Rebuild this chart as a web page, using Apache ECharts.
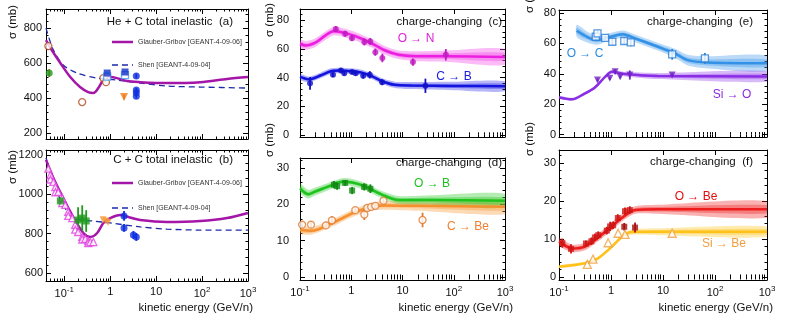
<!DOCTYPE html>
<html>
<head>
<meta charset="utf-8">
<script src="https://cdn.jsdelivr.net/npm/echarts@6/dist/echarts.min.js"></script>
<style>
  html, body { margin: 0; padding: 0; background: #fff; }
  #chart { width: 789px; height: 320px; }
</style>
</head>
<body>
<div id="chart"></div>
<script>
// tick values
const xTicks = [0.1, 1, 10, 100, 1000];
const aYTicks = [200, 400, 600, 800];
const bYTicks = [600, 800, 1000, 1200];
const cYTicks = [0, 20, 40, 60, 80];
const dYTicks = [0, 10, 20, 30];
const eYTicks = [0, 20, 40, 60, 80];
const fYTicks = [0, 10, 20, 30];

// (a) He + C total inelastic
const aGGe = [0.04, 0.05, 0.082, 0.135, 0.22, 0.33, 0.43, 0.55, 0.71, 1, 1.4, 2.3, 4.5, 17, 92, 350, 1000];
const aGGs = [731, 686, 600, 520, 463, 434, 429, 457, 503, 520, 514, 497, 491, 486, 491, 509, 520];
const aShenE = [0.04, 0.058, 0.095, 0.19, 0.52, 1.4, 4.5, 17, 92, 1000];
const aShenS = [800, 674, 589, 543, 514, 503, 486, 469, 463, 457];
const aOpenCircE = [0.045, 0.245, 0.71, 0.81];
const aOpenCircS = [697, 377, 514, 491];
const aGreenE = [0.047];
const aGreenS = [543];
const aGreenErr = [22];
const aSqE = [0.86, 2.1];
const aSqS = [543, 549];
const aOpenSqE = [0.86, 2.1];
const aOpenSqS = [522, 531];
const aTriE = [2.0];
const aTriS = [406];
const aTriErr = [14];
const aCircE = [3.7, 3.7, 3.7, 3.7];
const aCircS = [526, 446, 430, 410];
const aCircErr = [14, 12, 12, 12];

// (b) C + C total inelastic
const bGGe = [0.04, 0.058, 0.095, 0.157, 0.26, 0.37, 0.52, 0.71, 1, 1.66, 2.5, 4.5, 17, 92, 350, 1000];
const bGGs = [1175, 1083, 981, 884, 803, 783, 803, 854, 879, 895, 884, 869, 859, 864, 879, 905];
const bShenE = [0.04, 0.058, 0.09, 0.157, 0.43, 1, 4.5, 17, 92, 1000];
const bShenS = [1185, 1063, 956, 879, 864, 854, 834, 823, 818, 818];
const bTriE = [0.045, 0.05, 0.05, 0.058, 0.064, 0.064, 0.074, 0.09, 0.09, 0.105, 0.122, 0.122, 0.149, 0.173, 0.173, 0.2, 0.246, 0.246, 0.286, 0.333, 0.333, 0.37, 0.43];
const bTriS = [1130, 1098, 1075, 1063, 1037, 1010, 1012, 981, 955, 946, 910, 890, 879, 844, 820, 808, 783, 770, 773, 762, 752, 757, 757];
const bGreenE = [0.082, 0.2, 0.246, 0.3];
const bGreenS = [966, 869, 879, 864];
const bGreenErr = [15, 65, 65, 55];
const bOrangeE = [0.7, 0.8, 0.9];
const bOrangeS = [870, 864, 858];
const bCircE = [2.0, 2.0, 3.2, 3.7];
const bCircS = [890, 829, 793, 783];
const bCircErr = [25, 20, 20, 20];

// (c) O -> N, C -> B
const cONe = [0.1, 0.13, 0.2, 0.3, 0.45, 0.7, 1.2, 2.5, 4.6, 8.4, 18, 80, 1000];
const cONs = [63.5, 62.5, 64.5, 69, 72.5, 71.5, 69, 64, 59, 56, 55, 55, 54.5];
const cONh = [3, 3, 3, 3, 3, 3, 3, 3, 3, 3, 3.5, 4, 5.5];
const cONptE = [0.5, 0.76, 1.03, 1.8, 2.35, 2.95, 4.05, 16, 70];
const cONptS = [74, 70.7, 67.6, 65, 65.3, 57.8, 53.8, 50.9, 56];
const cONptErr = [2, 2, 2, 2.5, 2.5, 2.5, 3, 2.5, 4];
const cCBe = [0.1, 0.15, 0.25, 0.4, 0.6, 1, 1.6, 2.5, 4, 7, 15, 100, 1000];
const cCBs = [40.5, 38.8, 41.5, 44.5, 45, 44.5, 43.5, 41, 37.5, 35, 34.5, 34.2, 34];
const cCBh = [2, 2, 2, 2, 2, 2, 2, 2, 2, 2.2, 2.5, 3, 3.5];
const cCBptE = [0.157, 0.44, 0.63, 0.73, 1.04, 1.22, 1.71, 2.3, 4.0, 28];
const cCBptS = [36, 42, 45, 43, 44, 43, 41.4, 42, 36.8, 34.3];
const cCBptErr = [4.5, 1.5, 1.5, 1.5, 1.5, 1.5, 2, 2.5, 2, 5];

// (d) O -> B, C -> Be
const dOBe = [0.1, 0.144, 0.197, 0.42, 0.66, 1.05, 1.88, 4.05, 8.3, 39, 1000];
const dOBs = [24.4, 22.8, 23.5, 25.3, 26.2, 26, 24.9, 22.6, 21.2, 21.2, 21];
const dOBh = [1.3, 1.2, 1.1, 1, 1, 1, 1, 1, 1.1, 1.3, 1.9];
const dOBptE = [0.46, 0.53, 0.76, 1.04, 1.79, 2.36];
const dOBptS = [25.4, 25, 25.9, 23.8, 24.8, 24.3];
const dOBptErr = [1, 1, 0.8, 1, 1, 1.2];
const dCBeE = [0.1, 0.17, 0.42, 1.05, 2.6, 4.6, 20, 1000];
const dCBeS = [12.9, 12.7, 14.8, 17.5, 19.4, 19.7, 19.6, 19.3];
const dCBeH = [1, 1, 1, 1, 1.1, 1.2, 1.4, 2];
const dCBeptE = [0.11, 0.164, 0.32, 0.42, 1.2, 1.8, 2.05, 2.45, 2.95, 4.25, 24.6];
const dCBeptS = [14.4, 14.4, 14.2, 15.6, 18.4, 17.2, 19, 19.3, 19.6, 21, 15.7];
const dCBeptErr = [1, 1, 1, 1.2, 0.8, 1.5, 0.8, 0.8, 0.8, 0.8, 2];

// (e) O -> C, Si -> O
const eOCe = [0.22, 0.36, 0.54, 0.87, 1.7, 2.9, 8, 16.9, 30, 73, 1000];
const eOCs = [68.3, 64, 62.2, 64, 66, 63.3, 57.8, 53.5, 49, 47.5, 46.9];
const eOCh = [4, 3.5, 3, 2.5, 2.5, 2.5, 2.5, 3, 3.5, 4, 5];
const eOCptE = [0.51, 0.55, 0.77, 1.06, 1.8, 2.4, 15, 64];
const eOCptS = [64.4, 66.6, 63.7, 61.1, 61.6, 60.7, 52.8, 50.2];
const eOCptErr = [2, 2, 1.5, 2, 2, 2.5, 3.5, 3.5];
const eSiOe = [0.1, 0.178, 0.316, 0.49, 0.77, 1.04, 1.86, 8, 1000];
const eSiOs = [24.5, 23.2, 27.1, 31, 38, 41.3, 39.8, 38.5, 38.3];
const eSiOh = [1, 1, 1, 1, 1, 1.2, 1.5, 2, 3.5];
const eSiOptE = [0.55, 0.95, 1.2, 1.5, 2.3, 15];
const eSiOptS = [35.9, 37, 41.4, 38, 39.2, 39.2];
const eSiOptErr = [1, 1, 1.5, 1, 3, 1];

// (f) O -> Be, Si -> Be
const fOBeE = [0.1, 0.178, 0.316, 0.54, 0.87, 1.63, 2.9, 8, 1000];
const fOBeS = [9.3, 7.5, 8, 10.2, 12.4, 15.6, 17.6, 17.8, 17.8];
const fOBeH = [1, 1, 1, 1, 1, 1, 1, 1.2, 2.2];
const fOBeptE = [0.116, 0.17, 0.33, 0.42, 0.49, 0.57, 0.83, 0.96, 1.1, 1.35, 1.86, 2.3];
const fOBeptS = [8.9, 7.4, 8.8, 9.4, 10.4, 11, 12.2, 13.3, 13.6, 15.5, 17.3, 17.6];
const fOBeptErr = [1.2, 1.2, 0.8, 1, 1, 1, 1, 1.2, 1, 1, 1, 1];
const fOBe2E = [1.8, 2.9];
const fOBe2S = [13.2, 13];
const fOBe2Err = [1, 1.3];
const fSiBeE = [0.1, 0.316, 0.56, 1.04, 1.63, 2.5, 8, 1000];
const fSiBeS = [2.7, 3.6, 4.9, 8, 10.6, 11.8, 11.9, 11.9];
const fSiBeH = [0.4, 0.4, 0.4, 0.5, 0.6, 0.7, 0.9, 1.4];
const fSiBeptE = [0.35, 0.45, 0.88, 1.37, 1.86, 15];
const fSiBeptS = [3.3, 4.7, 9.0, 11.5, 11.2, 11.5];

const GG_NAME = 'Glauber-Gribov [GEANT-4-09-06]';
const SHEN_NAME = 'Shen [GEANT-4-09-04]';
const GG_COLOR = '#a416a8';
const SHEN_COLOR = '#1c2aa8';
const FONT = '"Liberation Sans", Arial, Helvetica, sans-serif';

const chart = echarts.init(document.getElementById('chart'));

// panel layout
const panels = [
  { left: 46, top: 9, width: 202, height: 130, xMin: 0.04, xMax: 1000, yMin: 166, yMax: 909, yTicks: aYTicks, xLabels: false, yMargin: 4 },
  { left: 46, top: 150, width: 202, height: 131, xMin: 0.04, xMax: 1000, yMin: 559, yMax: 1225, yTicks: bYTicks, xLabels: true, yMargin: 3 },
  { left: 300, top: 9, width: 205, height: 128, xMin: 0.1, xMax: 1000, yMin: -1.5, yMax: 88, yTicks: cYTicks, xLabels: false, yMargin: 11 },
  { left: 300, top: 158, width: 205, height: 122, xMin: 0.1, xMax: 1000, yMin: -0.83, yMax: 32.75, yTicks: dYTicks, xLabels: true, yMargin: 11 },
  { left: 559, top: 10, width: 208, height: 127, xMin: 0.1, xMax: 1000, yMin: -1.6, yMax: 82, yTicks: eYTicks, xLabels: false, yMargin: 3 },
  { left: 559, top: 150, width: 208, height: 130, xMin: 0.1, xMax: 1000, yMin: -0.8, yMax: 33.4, yTicks: fYTicks, xLabels: true, yMargin: 3 }
];

const xMinor = [];
for (let k = -2; k <= 2; k++) {
  for (let m = 2; m <= 9; m++) xMinor.push(+(m * Math.pow(10, k)).toFixed(6));
}
function yMinorOf(ticks, lo, hi) {
  const step = ticks[1] - ticks[0], m = step / 5, out = [];
  for (let v = Math.ceil(lo / m) * m; v <= hi + 1e-9; v += m) {
    if (Math.abs(v / step - Math.round(v / step)) > 1e-6) out.push(+v.toFixed(6));
  }
  return out;
}

function logLabel(v) {
  const k = Math.round(Math.log10(v));
  if (k === 0) return '1';
  if (k === 1) return '10';
  return '{b|10}{s|' + k + '}';
}

const black = { color: '#000', width: 1 };
const tick = (vals, len) => ({ show: true, inside: true, length: len, interval: 0, customValues: vals, lineStyle: black });

const grid = [], xAxis = [], yAxis = [];
panels.forEach((p, i) => {
  grid.push({ left: p.left, top: p.top, width: p.width, height: p.height, containLabel: false });
  const xb = { type: 'log', gridIndex: i, min: p.xMin, max: p.xMax, splitLine: { show: false }, axisLabel: { show: false }, axisLine: { show: false } };
  xAxis.push(
    Object.assign({}, xb, {
      position: 'bottom', axisLine: { show: true, onZero: false, lineStyle: black }, axisTick: tick(xTicks, 5),
      axisLabel: {
        show: p.xLabels, customValues: xTicks, interval: 0, margin: 5, color: '#111', fontFamily: FONT, fontSize: 11,
        formatter: logLabel,
        rich: { b: { fontFamily: FONT, fontSize: 11, color: '#111' }, s: { fontFamily: FONT, fontSize: 8, color: '#111', padding: [0, 0, 7, 0] } }
      }
    }),
    Object.assign({}, xb, { position: 'bottom', axisTick: tick(xMinor, 2.5) }),
    Object.assign({}, xb, { position: 'top', axisLine: { show: true, onZero: false, lineStyle: black }, axisTick: tick(xTicks, 5) }),
    Object.assign({}, xb, { position: 'top', axisTick: tick(xMinor, 2.5) })
  );
  const yMinor = yMinorOf(p.yTicks, p.yMin, p.yMax);
  const yb = { type: 'value', gridIndex: i, min: p.yMin, max: p.yMax, splitLine: { show: false }, axisLabel: { show: false }, axisLine: { show: false } };
  yAxis.push(
    Object.assign({}, yb, {
      position: 'left', axisLine: { show: true, onZero: false, lineStyle: black }, axisTick: tick(p.yTicks, 5),
      axisLabel: {
        show: true, customValues: p.yTicks, interval: 0, margin: p.yMargin, color: '#111', fontFamily: FONT, fontSize: 11,
        formatter: (v) => String(Math.round(v))
      }
    }),
    Object.assign({}, yb, { position: 'left', axisTick: tick(yMinor, 2.5) }),
    Object.assign({}, yb, { position: 'right', axisLine: { show: true, onZero: false, lineStyle: black }, axisTick: tick(p.yTicks, 5) }),
    Object.assign({}, yb, { position: 'right', axisTick: tick(yMinor, 2.5) })
  );
});

const zip = (xs, ys) => xs.map((x, k) => [x, ys[k]]);
const zip3 = (xs, ys, es) => xs.map((x, k) => [x, ys[k], es[k]]);
const ax = (i) => ({ xAxisIndex: 4 * i, yAxisIndex: 4 * i });

function band(i, xs, ys, hs, color) {
  return Object.assign({
    type: 'custom', clip: true, silent: true, z: 1,
    data: zip3(xs, ys, hs),
    renderItem: (params, api) => {
      if (params.dataIndexInside !== 0) return null;
      const n = params.dataInsideLength;
      const poly = (f) => {
        const up = [], lo = [];
        for (let k = 0; k < n; k++) {
          const x = api.value(0, k), y = api.value(1, k), h = api.value(2, k) * f;
          up.push(api.coord([x, y + h]));
          lo.push(api.coord([x, y - h]));
        }
        return up.concat(lo.reverse());
      };
      return {
        type: 'group', children: [
          { type: 'polygon', shape: { points: poly(1), smooth: 0.25 }, style: { fill: color, opacity: 0.35 } },
          { type: 'polygon', shape: { points: poly(0.5), smooth: 0.25 }, style: { fill: color, opacity: 0.35 } }
        ]
      };
    }
  }, ax(i));
}

function curve(i, xs, ys, color, width, name, dashed) {
  return Object.assign({
    type: 'line', name: name, data: zip(xs, ys), symbol: 'none', smooth: 0.3, z: 3, silent: true,
    lineStyle: { color: color, width: width, type: dashed ? [6, 4] : 'solid' },
    itemStyle: { color: color }
  }, ax(i));
}

function errBars(i, xs, ys, es, color) {
  return Object.assign({
    type: 'custom', clip: true, silent: true, z: 4,
    data: zip3(xs, ys, es),
    renderItem: (params, api) => {
      const x = api.value(0), y = api.value(1), e = api.value(2);
      const p1 = api.coord([x, y - e]), p2 = api.coord([x, y + e]);
      return { type: 'line', shape: { x1: p1[0], y1: p1[1], x2: p2[0], y2: p2[1] }, style: { stroke: color, lineWidth: 1.8 } };
    }
  }, ax(i));
}

function marks(i, xs, ys, color, symbol, size, open, rotate) {
  return Object.assign({
    type: 'scatter', data: zip(xs, ys), symbol: symbol, symbolSize: size, symbolRotate: rotate || 0, z: 5, silent: true,
    itemStyle: open ? { color: '#fff', borderColor: color, borderWidth: 1.3 } : { color: color, borderColor: color, borderWidth: 0 }
  }, ax(i));
}

const series = [
  // (a)
  curve(0, aShenE, aShenS, SHEN_COLOR, 1.3, SHEN_NAME, true),
  curve(0, aGGe, aGGs, GG_COLOR, 2.5, GG_NAME, false),
  marks(0, aOpenCircE, aOpenCircS, '#b24a1c', 'circle', 7, true),
  errBars(0, aGreenE, aGreenS, aGreenErr, '#b24a1c'),
  marks(0, aGreenE, aGreenS, '#1d9a1d', 'circle', 7, false),
  marks(0, aOpenSqE, aOpenSqS, '#3aa0f0', 'rect', 7, true),
  marks(0, aSqE, aSqS, '#1030c8', 'rect', 7, false),
  errBars(0, aTriE, aTriS, aTriErr, '#f07d1a'),
  marks(0, aTriE, aTriS, '#f07d1a', 'triangle', 8, false, 180),
  errBars(0, aCircE, aCircS, aCircErr, '#1030e0'),
  marks(0, aCircE, aCircS, '#1030e0', 'circle', 7, false),
  // (b)
  curve(1, bShenE, bShenS, SHEN_COLOR, 1.3, SHEN_NAME, true),
  curve(1, bGGe, bGGs, GG_COLOR, 2.5, GG_NAME, false),
  marks(1, bTriE, bTriS, '#e040e0', 'triangle', 7, true),
  errBars(1, bGreenE, bGreenS, bGreenErr, '#1d9a1d'),
  marks(1, bGreenE, bGreenS, '#1d9a1d', 'rect', 7, false),
  marks(1, bOrangeE, bOrangeS, '#f59a3a', 'triangle', 7, false, 180),
  errBars(1, bCircE, bCircS, bCircErr, '#1030e0'),
  marks(1, bCircE, bCircS, '#1030e0', 'circle', 7, false),
  // (c)
  band(2, cONe, cONs, cONh, '#f03ce6'),
  band(2, cCBe, cCBs, cCBh, '#2a2ae8'),
  curve(2, cONe, cONs, '#ec1ee0', 2.5),
  curve(2, cCBe, cCBs, '#1414e0', 2.5),
  errBars(2, cONptE, cONptS, cONptErr, '#c01cc0'),
  marks(2, cONptE, cONptS, '#c01cc0', 'circle', 6, false),
  errBars(2, cCBptE, cCBptS, cCBptErr, '#1010c8'),
  marks(2, cCBptE, cCBptS, '#1010c8', 'circle', 6, false),
  // (d)
  band(3, dCBeE, dCBeS, dCBeH, '#f5962e'),
  band(3, dOBe, dOBs, dOBh, '#28c828'),
  curve(3, dCBeE, dCBeS, '#f59030', 2.5),
  curve(3, dOBe, dOBs, '#1ec41e', 2.5),
  errBars(3, dOBptE, dOBptS, dOBptErr, '#138a13'),
  marks(3, dOBptE, dOBptS, '#138a13', 'rect', 6, false),
  errBars(3, dCBeptE, dCBeptS, dCBeptErr, '#e07a30'),
  marks(3, dCBeptE, dCBeptS, '#e07a30', 'circle', 7, true),
  // (e)
  band(4, eOCe, eOCs, eOCh, '#3a96ea'),
  band(4, eSiOe, eSiOs, eSiOh, '#9238ea'),
  curve(4, eOCe, eOCs, '#3391e6', 2.5),
  curve(4, eSiOe, eSiOs, '#8a2ee6', 2.5),
  errBars(4, eOCptE, eOCptS, eOCptErr, '#2a80d8'),
  marks(4, eOCptE, eOCptS, '#2a80d8', 'rect', 7, true),
  errBars(4, eSiOptE, eSiOptS, eSiOptErr, '#7222c4'),
  marks(4, eSiOptE, eSiOptS, '#7222c4', 'triangle', 7, false, 180),
  // (f)
  band(5, fOBeE, fOBeS, fOBeH, '#ee2020'),
  band(5, fSiBeE, fSiBeS, fSiBeH, '#ffc21a'),
  curve(5, fOBeE, fOBeS, '#ee1c1c', 2.5),
  curve(5, fSiBeE, fSiBeS, '#ffc21a', 2.5),
  errBars(5, fOBeptE, fOBeptS, fOBeptErr, '#d01414'),
  marks(5, fOBeptE, fOBeptS, '#d01414', 'rect', 6, false),
  errBars(5, fOBe2E, fOBe2S, fOBe2Err, '#a81010'),
  marks(5, fOBe2E, fOBe2S, '#a81010', 'rect', 6, false),
  marks(5, fSiBeptE, fSiBeptS, '#f0a040', 'triangle', 8, true)
];

function txt(x, y, s, opts) {
  return {
    type: 'text', x: x, y: y, rotation: (opts && opts.rot) || 0, silent: true,
    style: Object.assign({ text: s, fontFamily: FONT, fontSize: 11.5, fill: '#111', align: 'right', verticalAlign: 'middle' }, (opts && opts.style) || {})
  };
}
const sigma = (x, y) => txt(x, y, 'σ (mb)', { rot: Math.PI / 2, style: { align: 'center' } });
const lab = (x, y, s, c) => txt(x, y, s, { style: { align: 'center', fontSize: 12, fill: c } });

// legend keys for panels (a) and (b)
function legendKey(y1, y2) {
  return [
    { type: 'line', silent: true, shape: { x1: 112, y1: y1, x2: 133, y2: y1 }, style: { stroke: GG_COLOR, lineWidth: 2.5 } },
    { type: 'line', silent: true, shape: { x1: 112, y1: y2, x2: 133, y2: y2 }, style: { stroke: SHEN_COLOR, lineWidth: 1.3, lineDash: [6, 4] } },
    txt(138, y1, GG_NAME, { style: { align: 'left', fontSize: 7, fill: '#333' } }),
    txt(138, y2, SHEN_NAME, { style: { align: 'left', fontSize: 7, fill: '#333' } })
  ];
}

const graphic = [
  txt(233, 22, 'He + C total inelastic  (a)'),
  txt(233, 160, 'C + C total inelastic  (b)'),
  txt(502, 22, 'charge-changing  (c)'),
  txt(502, 163, 'charge-changing  (d)'),
  txt(753, 22, 'charge-changing  (e)'),
  txt(753, 162, 'charge-changing  (f)'),
  sigma(13, 22), sigma(13, 167), sigma(270, 20), sigma(270, 140), sigma(530, -4), sigma(530, 139),
  txt(253, 308, 'kinetic energy (GeV/n)'),
  txt(513, 308, 'kinetic energy (GeV/n)'),
  txt(773, 308, 'kinetic energy (GeV/n)'),
  lab(416, 39, 'O → N', '#e020d8'),
  lab(454, 77, 'C → B', '#1a1ae0'),
  lab(432, 184, 'O → B', '#20c020'),
  lab(468, 227, 'C → Be', '#f08030'),
  lab(585, 54, 'O → C', '#2a8ce0'),
  lab(732, 95, 'Si → O', '#8a2be2'),
  lab(696, 197, 'O → Be', '#e01010'),
  lab(724, 244, 'Si → Be', '#f0a040')
].concat(legendKey(42, 65), legendKey(183, 208));

chart.setOption({
  backgroundColor: '#fff',
  animation: false,
  grid: grid,
  xAxis: xAxis,
  yAxis: yAxis,
  graphic: graphic,
  series: series
});
</script>
</body>
</html>
